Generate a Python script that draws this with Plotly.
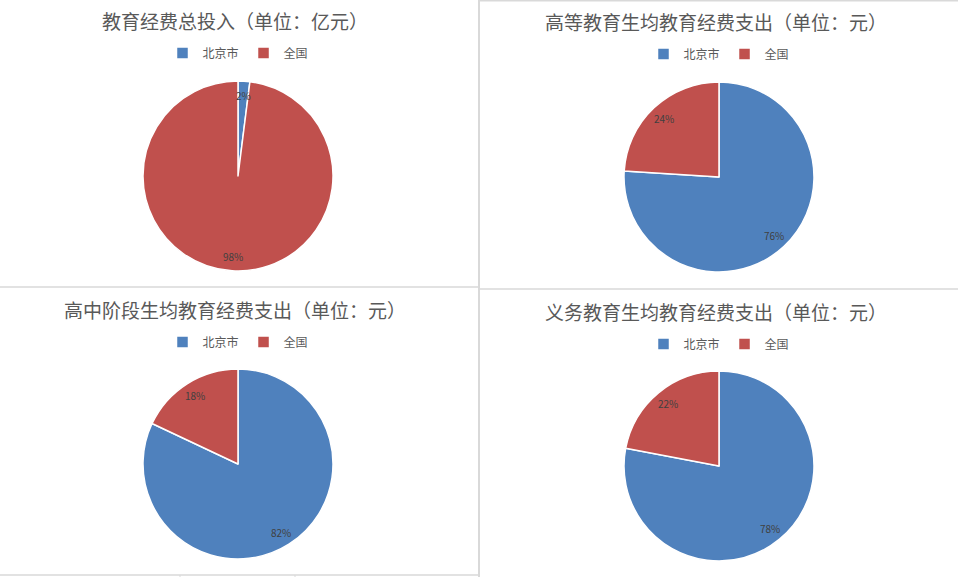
import math
import plotly.graph_objects as go

W, H = 958, 577

# ---- data ----
labels = ["北京市", "全国"]
titles = [
    "教育经费总投入（单位：亿元）",
    "高等教育生均教育经费支出（单位：元）",
    "高中阶段生均教育经费支出（单位：元）",
    "义务教育生均教育经费支出（单位：元）",
]
total_investment = [2, 98]
higher_edu = [76, 24]
senior_high = [82, 18]
compulsory = [78, 22]
series = [total_investment, higher_edu, senior_high, compulsory]

colors = ["#4F81BD", "#C0504D"]
FONT = "Noto Sans CJK SC, Noto Sans, sans-serif"

# ---- layout (pixel geometry of each panel) ----
R = 95
panels = [
    # cx, cy, title_x, title_y, legend_y
    (238, 176, 235, 20, 53),
    (719, 177, 716, 21, 54),
    (238, 464, 235, 309, 342),
    (719, 466, 716, 311, 344),
]

fig = go.Figure()
annotations = []
legends = {}

for i, (vals, title, (cx, cy, tx, ty, ly)) in enumerate(zip(series, titles, panels)):
    lid = "legend" if i == 0 else f"legend{i + 1}"
    fig.add_trace(go.Pie(
        labels=labels,
        values=vals,
        sort=False,
        direction="clockwise",
        rotation=0,
        textinfo="none",
        marker=dict(colors=colors, line=dict(color="white", width=1.5)),
        domain=dict(x=[(cx - R) / W, (cx + R) / W],
                    y=[1 - (cy + R) / H, 1 - (cy - R) / H]),
        legend=lid,
        legendgroup=f"g{i}",
        showlegend=True,
    ))
    legends[lid] = dict(
        orientation="h", traceorder="normal",
        x=cx / W, y=1 - ly / H, xanchor="center", yanchor="middle",
        font=dict(family=FONT, size=12, color="#595959"),
        bgcolor="rgba(0,0,0,0)", itemclick=False, itemdoubleclick=False,
    )
    annotations.append(dict(
        text=title, x=tx / W, y=1 - ty / H, xref="paper", yref="paper",
        xanchor="center", yanchor="middle", showarrow=False,
        font=dict(family=FONT, size=19, color="#595959"),
    ))
    # percentage labels placed near the outer edge (inside end), derived from values
    s = float(sum(vals))
    cum = 0.0
    for v in vals:
        mid = (cum + v / 2.0) / s * 2 * math.pi
        cum += v
        px = cx + 0.85 * R * math.sin(mid)
        py = cy - 0.85 * R * math.cos(mid)
        annotations.append(dict(
            text=f"{round(100 * v / s)}%", x=px / W, y=1 - py / H,
            xref="paper", yref="paper", xanchor="center", yanchor="middle",
            showarrow=False, font=dict(family=FONT, size=10, color="#404040"),
        ))

grid = "#D9D9D9"
shapes = [
    dict(type="line", x0=479 / W, x1=479 / W, y0=0, y1=1, line=dict(color=grid, width=2)),
    dict(type="line", x0=0, x1=478 / W, y0=1 - 287 / H, y1=1 - 287 / H, line=dict(color=grid, width=1.5)),
    dict(type="line", x0=480 / W, x1=1, y0=1 - 289 / H, y1=1 - 289 / H, line=dict(color=grid, width=1.5)),
    dict(type="line", x0=480 / W, x1=1, y0=1 - 0.7 / H, y1=1 - 0.7 / H, line=dict(color=grid, width=1.5)),
    dict(type="line", x0=0, x1=478 / W, y0=1 - 575 / H, y1=1 - 575 / H, line=dict(color=grid, width=1.5)),
    dict(type="line", x0=180 / W, x1=180 / W, y0=0, y1=1 - 575 / H, line=dict(color=grid, width=1)),
    dict(type="line", x0=295 / W, x1=295 / W, y0=0, y1=1 - 575 / H, line=dict(color=grid, width=1)),
]
for sh in shapes:
    sh.update(xref="paper", yref="paper", layer="above")

fig.update_layout(
    width=W, height=H,
    margin=dict(l=0, r=0, t=0, b=0),
    paper_bgcolor="white", plot_bgcolor="white",
    annotations=annotations,
    shapes=shapes,
    **legends,
)

fig.write_html("out.html", config={"displayModeBar": False},
               post_script="document.body.style.margin='0';")
